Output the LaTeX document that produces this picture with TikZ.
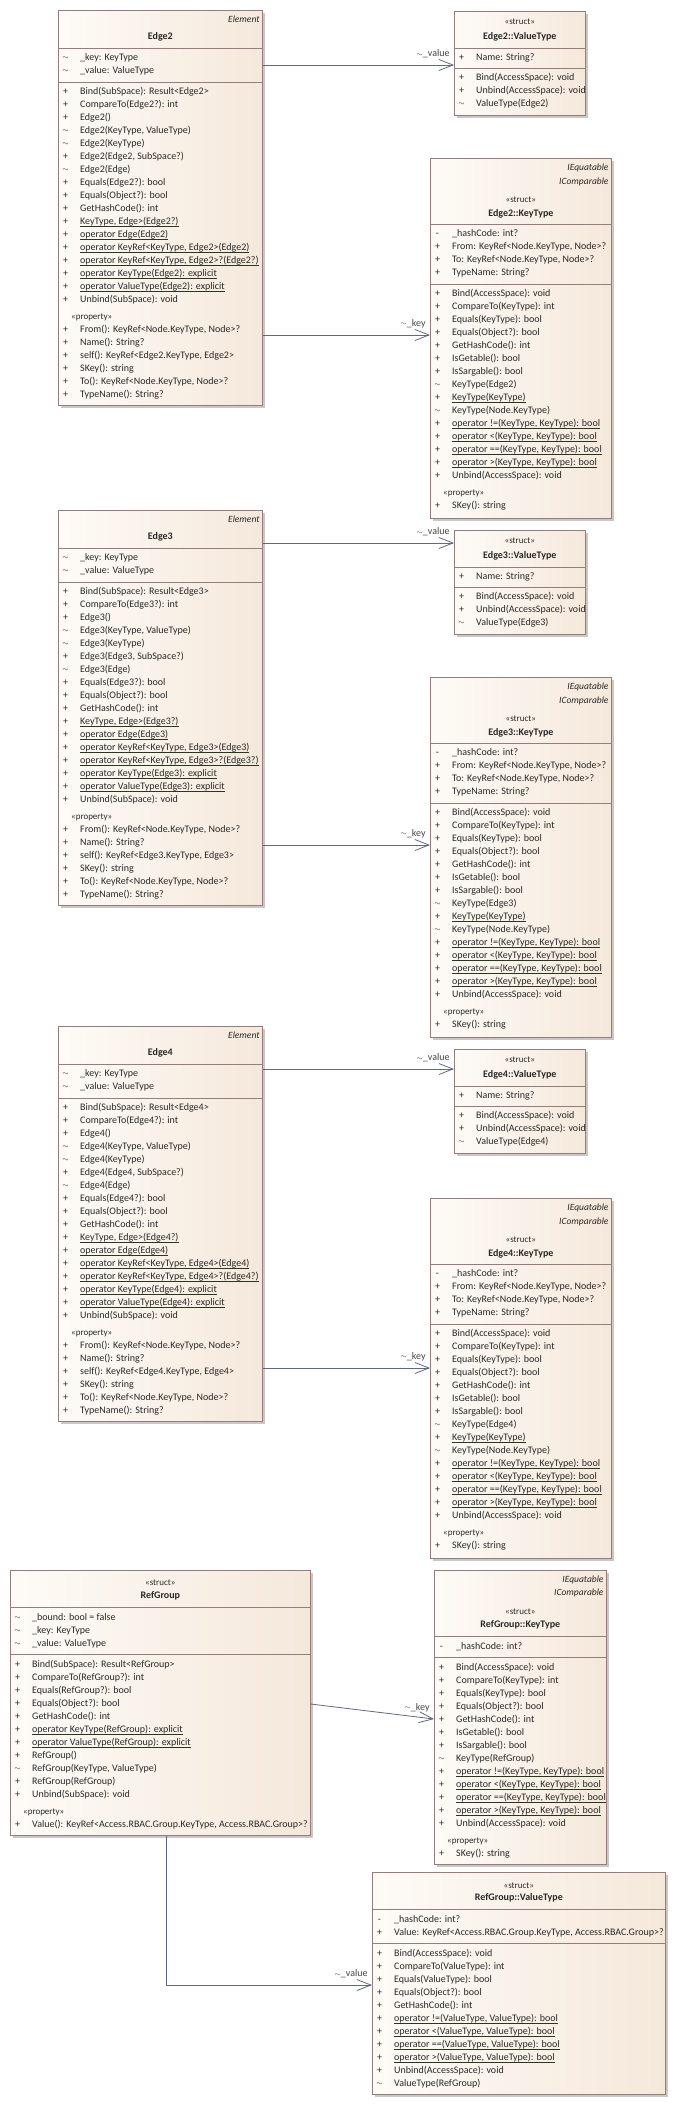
\documentclass[tikz,border=0pt]{standalone}
\usepackage{fontspec}
\setmainfont{Carlito}
\usetikzlibrary{arrows.meta,calc,shadows}
\definecolor{txt}{RGB}{40,40,40}
\definecolor{bord}{RGB}{150,125,125}
\definecolor{fillL}{RGB}{254,251,247}
\definecolor{fillR}{RGB}{245,232,219}
\definecolor{shad}{RGB}{200,200,200}
\definecolor{conn}{RGB}{95,105,130}
\definecolor{ulc}{RGB}{40,55,30}
\definecolor{lbl}{RGB}{70,70,70}
\newsavebox\ulbox
\newcommand\myul[1]{\sbox\ulbox{#1}\rlap{\color{ulc}\rule[-2pt]{\wd\ulbox}{0.7pt}}\usebox\ulbox}
\newcommand\tld{\raisebox{0.8pt}{\fontsize{7.5}{9}\selectfont$\sim$}}
\newcounter{ry}\newcounter{nn}
\def\curbox{}
\newcommand\Bx[1]{\def\curbox{#1}}
\newcommand\Ry[1]{\setcounter{ry}{#1}}
\newcommand\Mr[2]{\stepcounter{nn}%
 \node[vsym] (s\thenn) at ([xshift=7.5pt,yshift=-\thery pt]\curbox.north west) {#1};%
 \node[mtxt] (m\thenn) at ([xshift=22pt,yshift=-\thery pt]\curbox.north west) {#2};%
 \addtocounter{ry}{13}}
\newcommand\Mprop{\addtocounter{ry}{4}\stepcounter{nn}%
 \node[ptxt] (p\thenn) at ([xshift=13pt,yshift=-\thery pt]\curbox.north west) {«property»};%
 \addtocounter{ry}{13}}
\newcommand\Hsep[1]{\draw[sepl] ([yshift=-#1pt]\curbox.north west) -- ([yshift=-#1pt]\curbox.north east);}
\newcommand\Hc[3]{\stepcounter{nn}\node[#2] (h\thenn) at ([yshift=-#1pt]\curbox.north) {#3};}
\newcommand\Hr[2]{\stepcounter{nn}\node[itxt] (h\thenn) at ([xshift=-3pt,yshift=-#1pt]\curbox.north east) {#2};}
\tikzset{
 cbox/.style={rectangle, draw=bord, line width=0.7pt, left color=fillL, right color=fillR, anchor=north west, inner sep=0pt,
   drop shadow={shadow xshift=3pt, shadow yshift=-3pt, fill=shad, opacity=1}},
 sepl/.style={draw=bord, line width=0.7pt},
 vsym/.style={font=\fontsize{10}{12}\selectfont, text=txt, inner sep=0pt, anchor=center, text height=7pt, text depth=2pt},
 mtxt/.style={font=\fontsize{10}{12}\selectfont, text=txt, inner sep=0pt, anchor=west, text height=7pt, text depth=2pt},
 ptxt/.style={font=\fontsize{9}{11}\selectfont, text=txt, inner sep=0pt, anchor=west, text height=7pt, text depth=2pt},
 ntxt/.style={font=\bfseries\fontsize{10}{12}\selectfont, text=txt, inner sep=0pt, anchor=center, text height=7pt, text depth=2pt},
 stxt/.style={font=\fontsize{9}{11}\selectfont, text=txt, inner sep=0pt, anchor=center, text height=7pt, text depth=2pt},
 itxt/.style={font=\itshape\fontsize{9.5}{11}\selectfont, text=txt, inner sep=0pt, anchor=east, text height=7pt, text depth=2pt},
 assoc/.style={draw=conn, line width=0.8pt, -{Straight Barb[length=14pt,width=11pt]}},
 lab/.style={font=\fontsize{10}{12}\selectfont, text=lbl, inner sep=0pt, pos=1, anchor=east, xshift=-4pt, yshift=11pt}
}
\newcommand\EdgeClass[3]{%
\node[cbox, minimum width=204pt, minimum height=395pt] (#1) at (58,#3) {};
\Bx{#1}
\Hr{10}{Element}
\Hc{27}{ntxt}{Edge#2}
\Hsep{38}
\Ry{48}
\Mr{\tld}{\_key: KeyType}
\Mr{\tld}{\_value: ValueType}
\Hsep{72}
\Ry{82}
\Mr{+}{Bind(SubSpace): Result<Edge#2>}
\Mr{+}{CompareTo(Edge#2?): int}
\Mr{+}{Edge#2()}
\Mr{\tld}{Edge#2(KeyType, ValueType)}
\Mr{\tld}{Edge#2(KeyType)}
\Mr{+}{Edge#2(Edge#2, SubSpace?)}
\Mr{\tld}{Edge#2(Edge)}
\Mr{+}{Equals(Edge#2?): bool}
\Mr{+}{Equals(Object?): bool}
\Mr{+}{GetHashCode(): int}
\Mr{+}{\myul{KeyType, Edge>(Edge#2?)}}
\Mr{+}{\myul{operator Edge(Edge#2)}}
\Mr{+}{\myul{operator KeyRef<KeyType, Edge#2>(Edge#2)}}
\Mr{+}{\myul{operator KeyRef<KeyType, Edge#2>?(Edge#2?)}}
\Mr{+}{\myul{operator KeyType(Edge#2): explicit}}
\Mr{+}{\myul{operator ValueType(Edge#2): explicit}}
\Mr{+}{Unbind(SubSpace): void}
\Mprop
\Mr{+}{From(): KeyRef<Node.KeyType, Node>?}
\Mr{+}{Name(): String?}
\Mr{+}{self(): KeyRef<Edge#2.KeyType, Edge#2>}
\Mr{+}{SKey(): string}
\Mr{+}{To(): KeyRef<Node.KeyType, Node>?}
\Mr{+}{TypeName(): String?}
}
\newcommand\ValClass[3]{%
\node[cbox, minimum width=131pt, minimum height=104pt] (#1) at (454,#3) {};
\Bx{#1}
\Hc{11}{stxt}{«struct»}
\Hc{26}{ntxt}{Edge#2::ValueType}
\Hsep{37}
\Ry{47}
\Mr{+}{Name: String?}
\Hsep{57}
\Ry{67}
\Mr{+}{Bind(AccessSpace): void}
\Mr{+}{Unbind(AccessSpace): void}
\Mr{\tld}{ValueType(Edge#2)}
}
\newcommand\KeyClass[3]{%
\node[cbox, minimum width=181pt, minimum height=360pt] (#1) at (430,#3) {};
\Bx{#1}
\Hr{9.5}{IEquatable}
\Hr{23.5}{IComparable}
\Hc{42}{stxt}{«struct»}
\Hc{55.5}{ntxt}{Edge#2::KeyType}
\Hsep{66}
\Ry{76}
\Mr{-}{\_hashCode: int?}
\Mr{+}{From: KeyRef<Node.KeyType, Node>?}
\Mr{+}{To: KeyRef<Node.KeyType, Node>?}
\Mr{+}{TypeName: String?}
\Hsep{126}
\Ry{136}
\Mr{+}{Bind(AccessSpace): void}
\Mr{+}{CompareTo(KeyType): int}
\Mr{+}{Equals(KeyType): bool}
\Mr{+}{Equals(Object?): bool}
\Mr{+}{GetHashCode(): int}
\Mr{+}{IsGetable(): bool}
\Mr{+}{IsSargable(): bool}
\Mr{\tld}{KeyType(Edge#2)}
\Mr{+}{\myul{KeyType(KeyType)}}
\Mr{\tld}{KeyType(Node.KeyType)}
\Mr{+}{\myul{operator !=(KeyType, KeyType): bool}}
\Mr{+}{\myul{operator <(KeyType, KeyType): bool}}
\Mr{+}{\myul{operator ==(KeyType, KeyType): bool}}
\Mr{+}{\myul{operator >(KeyType, KeyType): bool}}
\Mr{+}{Unbind(AccessSpace): void}
\Mprop
\Mr{+}{SKey(): string}
}
\begin{document}
\begin{tikzpicture}[x=1pt,y=-1pt]
\fill[white] (0,0) rectangle (679,2105);
\useasboundingbox (0,0) rectangle (679,2105);

\EdgeClass{e2}{2}{10}
\ValClass{e2vt}{2}{11}
\KeyClass{e2kt}{2}{158}
\EdgeClass{e3}{3}{510}
\ValClass{e3vt}{3}{530}
\KeyClass{e3kt}{3}{677}
\EdgeClass{e4}{4}{1026}
\ValClass{e4vt}{4}{1049}
\KeyClass{e4kt}{4}{1198}

% RefGroup
\node[cbox, minimum width=300pt, minimum height=265pt] (rg) at (10,1570) {};
\Bx{rg}
\Hc{13}{stxt}{«struct»}
\Hc{26}{ntxt}{RefGroup}
\Hsep{37}
\Ry{48}
\Mr{\tld}{\_bound: bool = false}
\Mr{\tld}{\_key: KeyType}
\Mr{\tld}{\_value: ValueType}
\Hsep{84}
\Ry{95}
\Mr{+}{Bind(SubSpace): Result<RefGroup>}
\Mr{+}{CompareTo(RefGroup?): int}
\Mr{+}{Equals(RefGroup?): bool}
\Mr{+}{Equals(Object?): bool}
\Mr{+}{GetHashCode(): int}
\Mr{+}{\myul{operator KeyType(RefGroup): explicit}}
\Mr{+}{\myul{operator ValueType(RefGroup): explicit}}
\Mr{+}{RefGroup()}
\Mr{\tld}{RefGroup(KeyType, ValueType)}
\Mr{+}{RefGroup(RefGroup)}
\Mr{+}{Unbind(SubSpace): void}
\Mprop
\Mr{+}{Value(): KeyRef<Access.RBAC.Group.KeyType, Access.RBAC.Group>?}

% RefGroup::KeyType
\node[cbox, minimum width=172pt, minimum height=294pt] (rgkt) at (434,1570) {};
\Bx{rgkt}
\Hr{10}{IEquatable}
\Hr{23}{IComparable}
\Hc{42}{stxt}{«struct»}
\Hc{55}{ntxt}{RefGroup::KeyType}
\Hsep{66}
\Ry{77}
\Mr{-}{\_hashCode: int?}
\Hsep{87}
\Ry{98}
\Mr{+}{Bind(AccessSpace): void}
\Mr{+}{CompareTo(KeyType): int}
\Mr{+}{Equals(KeyType): bool}
\Mr{+}{Equals(Object?): bool}
\Mr{+}{GetHashCode(): int}
\Mr{+}{IsGetable(): bool}
\Mr{+}{IsSargable(): bool}
\Mr{\tld}{KeyType(RefGroup)}
\Mr{+}{\myul{operator !=(KeyType, KeyType): bool}}
\Mr{+}{\myul{operator <(KeyType, KeyType): bool}}
\Mr{+}{\myul{operator ==(KeyType, KeyType): bool}}
\Mr{+}{\myul{operator >(KeyType, KeyType): bool}}
\Mr{+}{Unbind(AccessSpace): void}
\Mprop
\Mr{+}{SKey(): string}

% RefGroup::ValueType
\node[cbox, minimum width=293pt, minimum height=222pt] (rgvt) at (372,1872) {};
\Bx{rgvt}
\Hc{14}{stxt}{«struct»}
\Hc{26}{ntxt}{RefGroup::ValueType}
\Hsep{37}
\Ry{48}
\Mr{-}{\_hashCode: int?}
\Mr{+}{Value: KeyRef<Access.RBAC.Group.KeyType, Access.RBAC.Group>?}
\Hsep{71}
\Ry{82}
\Mr{+}{Bind(AccessSpace): void}
\Mr{+}{CompareTo(ValueType): int}
\Mr{+}{Equals(ValueType): bool}
\Mr{+}{Equals(Object?): bool}
\Mr{+}{GetHashCode(): int}
\Mr{+}{\myul{operator !=(ValueType, ValueType): bool}}
\Mr{+}{\myul{operator <(ValueType, ValueType): bool}}
\Mr{+}{\myul{operator ==(ValueType, ValueType): bool}}
\Mr{+}{\myul{operator >(ValueType, ValueType): bool}}
\Mr{+}{Unbind(AccessSpace): void}
\Mr{\tld}{ValueType(RefGroup)}

% connectors
\draw[assoc] ([yshift=-55pt]e2.north east) -- ([yshift=-54pt]e2vt.north west) node[lab] (l1) {\tld\_value};
\draw[assoc] ([yshift=-325pt]e2.north east) -- ([yshift=-177pt]e2kt.north west) node[lab] (l2) {\tld\_key};
\draw[assoc] ([yshift=-33pt]e3.north east) -- ([yshift=-13pt]e3vt.north west) node[lab] (l3) {\tld\_value};
\draw[assoc] ([yshift=-335pt]e3.north east) -- ([yshift=-168pt]e3kt.north west) node[lab] (l4) {\tld\_key};
\draw[assoc] ([yshift=-43pt]e4.north east) -- ([yshift=-20pt]e4vt.north west) node[lab] (l5) {\tld\_value};
\draw[assoc] ([yshift=-342pt]e4.north east) -- ([yshift=-170pt]e4kt.north west) node[lab] (l6) {\tld\_key};
\draw[assoc] ([yshift=-134pt]rg.north east) -- ([yshift=-149pt]rgkt.north west) node[lab] (l7) {\tld\_key};
\draw[assoc] ([xshift=156pt]rg.south west) |- ([yshift=-113pt]rgvt.north west) node[lab] (l8) {\tld\_value};
\end{tikzpicture}
\end{document}
